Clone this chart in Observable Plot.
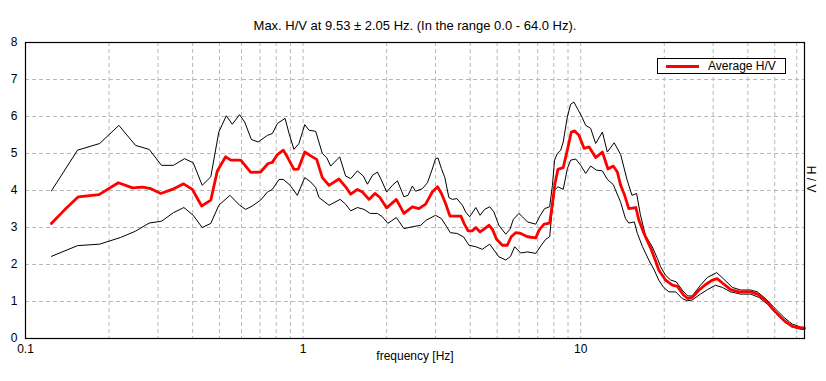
<!DOCTYPE html>
<html><head><meta charset="utf-8">
<script src="https://cdn.jsdelivr.net/npm/d3@7"></script>
<script src="https://cdn.jsdelivr.net/npm/@observablehq/plot@0.6"></script>
<style>
body{margin:0;background:#fff;}
#wrap{position:relative;width:826px;height:381px;font-family:"Liberation Sans",Arial,sans-serif;}
#legend{position:absolute;left:657px;top:58px;width:127px;height:14px;border:1px solid #000;background:#fff;font-size:12px;line-height:14px;}
#legend .sw{position:absolute;left:8px;top:6px;width:33px;height:3px;background:#ff0000;}
#legend .lb{position:absolute;left:50px;top:0px;white-space:nowrap;}
</style></head><body><div id="wrap"></div>
<script>
const titleText = "Max. H/V at 9.53 \u00b1 2.05 Hz. (In the range 0.0 - 64.0 Hz).";
const xLabel = "frequency [Hz]";
const yLabel = "H / V";
const legendLabel = "Average H/V";
const xTicks = [0.1, 1, 10];
const yTicks = [0, 1, 2, 3, 4, 5, 6, 7, 8];
const xGrid = [0.2,0.3,0.4,0.5,0.6,0.7,0.8,0.9,1,2,3,4,5,6,7,8,9,10,20,30,40,50,60];
const yGrid = [1, 2, 3, 4, 5, 6, 7];

const avgF = [0.124,0.138,0.155,0.184,0.216,0.243,0.264,0.283,0.307,0.338,0.371,0.399,0.431,0.465,0.491,0.526,0.549,0.596,0.648,0.703,0.748,0.775,0.808,0.849,0.877,0.927,0.961,1.014,1.080,1.119,1.173,1.240,1.346,1.423,1.484,1.569,1.636,1.727,1.815,1.892,2.000,2.167,2.308,2.475,2.614,2.763,2.92,3.05,3.15,3.26,3.38,3.54,3.70,3.80,3.93,4.07,4.19,4.34,4.51,4.67,4.81,4.98,5.22,5.44,5.62,5.83,6.08,6.43,6.89,7.08,7.38,7.73,7.91,8.08,8.28,8.65,8.95,9.25,9.51,9.86,10.28,10.71,11.32,11.97,12.54,13.1,13.55,13.93,14.4,14.9,15.8,16.2,16.9,17.9,18.6,19.1,20.2,21.4,22.3,23.5,24.3,25.2,26.7,28.2,29.8,31.0,32.4,34.7,37.2,40.9,43.3,46.3,49.7,54.0,57.8,61.9,64];
const avgV = [3.11,3.47,3.83,3.89,4.21,4.07,4.09,4.05,3.92,4.03,4.18,4.03,3.58,3.74,4.53,4.91,4.82,4.82,4.49,4.50,4.73,4.76,4.97,5.09,4.91,4.57,4.58,5.04,4.91,4.84,4.35,4.14,4.31,4.10,3.90,4.03,3.96,3.76,3.92,3.81,3.53,3.76,3.38,3.56,3.51,3.63,3.96,4.10,3.92,3.65,3.31,3.31,3.31,3.11,2.91,2.91,3.00,2.88,2.97,3.06,2.95,2.68,2.52,2.52,2.75,2.86,2.84,2.75,2.72,2.93,3.09,3.12,3.65,4.19,4.57,4.62,5.09,5.58,5.61,5.49,5.14,5.18,4.89,5.04,4.58,4.66,4.50,4.14,3.87,3.51,3.54,3.20,2.84,2.43,2.10,1.85,1.58,1.44,1.41,1.17,1.08,1.11,1.31,1.46,1.58,1.62,1.50,1.32,1.26,1.26,1.20,1.04,0.76,0.49,0.33,0.29,0.28];

const upF = [0.124,0.154,0.185,0.217,0.249,0.279,0.309,0.341,0.374,0.402,0.433,0.465,0.497,0.529,0.556,0.590,0.616,0.651,0.688,0.744,0.775,0.808,0.861,0.890,0.927,0.966,1.014,1.05,1.11,1.173,1.216,1.257,1.355,1.423,1.484,1.569,1.648,1.705,1.778,1.853,1.915,2.0,2.097,2.187,2.308,2.387,2.475,2.543,2.69,2.805,2.92,3.00,3.06,3.15,3.24,3.35,3.45,3.58,3.75,3.85,3.98,4.19,4.34,4.51,4.70,4.87,5.07,5.37,5.56,5.72,5.99,6.17,6.43,6.89,7.13,7.41,7.73,7.91,8.05,8.24,8.47,8.65,8.95,9.2,9.45,9.77,10.1,10.42,10.86,11.32,11.97,12.47,13.2,13.93,14.7,15.3,15.9,16.4,17.1,18.1,18.9,19.4,20.2,21.1,22.1,23.2,24.3,25.2,27.0,28.6,30.9,32.6,35.2,37.7,40.9,43.3,46.3,49.7,54.0,57.8,61.9,64];
const upV = [3.99,5.09,5.27,5.76,5.22,5.11,4.68,4.68,4.86,4.75,4.14,4.37,5.58,6.02,5.79,6.05,5.85,5.38,5.31,5.49,5.54,5.81,5.95,5.54,5.11,5.27,5.78,5.63,5.60,5.00,4.89,4.66,4.91,4.39,4.32,4.53,4.39,4.17,4.41,4.50,4.28,3.96,4.14,4.26,3.83,3.87,4.12,3.98,4.05,4.21,4.58,4.86,4.88,4.59,4.35,3.81,3.76,3.78,3.60,3.42,3.29,3.54,3.33,3.49,3.56,3.42,3.06,2.82,2.95,3.22,3.38,3.29,3.15,3.09,3.31,3.51,3.56,4.14,4.82,5.00,5.09,5.31,5.99,6.33,6.39,6.19,5.99,5.76,5.68,5.27,5.58,5.04,5.29,4.97,4.28,3.87,3.92,3.35,2.79,2.48,2.16,1.94,1.71,1.58,1.53,1.31,1.15,1.15,1.44,1.65,1.78,1.62,1.38,1.31,1.31,1.26,1.08,0.84,0.57,0.39,0.31,0.30];

const loF = [0.124,0.154,0.185,0.220,0.249,0.279,0.309,0.341,0.372,0.402,0.433,0.465,0.497,0.545,0.591,0.621,0.656,0.703,0.744,0.775,0.819,0.849,0.898,0.953,1.014,1.065,1.11,1.141,1.240,1.36,1.423,1.484,1.569,1.657,1.745,1.853,1.930,2.02,2.167,2.308,2.475,2.651,2.78,3.0,3.15,3.29,3.39,3.58,3.78,3.96,4.19,4.42,4.70,4.87,5.07,5.37,5.59,5.78,6.08,6.43,6.89,7.21,7.48,7.73,7.85,8.05,8.28,8.65,8.95,9.2,9.6,10.0,10.42,10.86,11.4,11.97,12.47,13.1,13.93,14.5,14.9,15.6,16.0,16.7,17.6,18.4,19.1,19.9,20.8,22.0,23.2,24.2,25.2,27.0,28.6,30.6,32.4,34.7,37.7,40.9,43.9,47.0,50.4,54.7,58.6,61.9,64];
const loV = [2.22,2.51,2.55,2.73,2.90,3.12,3.17,3.40,3.54,3.33,3.00,3.11,3.60,3.87,3.60,3.49,3.58,3.74,3.96,4.03,4.30,4.30,4.14,3.87,4.35,4.23,4.08,3.81,3.60,3.76,3.63,3.45,3.54,3.49,3.38,3.38,3.29,3.11,3.27,2.97,3.02,3.06,3.20,3.33,3.24,3.02,2.86,2.84,2.75,2.52,2.48,2.41,2.55,2.39,2.21,2.12,2.22,2.48,2.31,2.34,2.30,2.52,2.68,2.75,3.29,4.01,4.10,4.03,4.59,4.82,4.85,4.68,4.46,4.66,4.55,4.53,4.30,4.16,3.68,3.24,3.12,3.15,2.84,2.48,2.12,1.85,1.58,1.38,1.26,1.26,1.08,1.02,1.04,1.20,1.32,1.44,1.38,1.26,1.20,1.20,1.11,0.93,0.68,0.42,0.30,0.25,0.25];

const rows = (f, v) => f.map((x, i) => ({f: x, v: v[i]}));
const avg = rows(avgF, avgV), upper = rows(upF, upV), lower = rows(loF, loV);

const font = "'Liberation Sans', Arial, sans-serif";
const chart = Plot.plot({
  width: 826, height: 381,
  marginLeft: 25, marginRight: 22, marginTop: 42, marginBottom: 43,
  style: {fontFamily: font, fontSize: "12px", color: "#000", background: "#fff"},
  x: {type: "log", domain: [0.1, 64], label: null},
  y: {domain: [0, 8], label: null},
  marks: [
    Plot.ruleX(xGrid, {stroke: "#b8b8b8", strokeDasharray: "4,3"}),
    Plot.ruleY(yGrid, {stroke: "#b8b8b8", strokeDasharray: "4,3"}),
    Plot.axisX(xTicks, {tickSize: 0, tickPadding: 6, tickFormat: d => String(d), fontSize: 12, label: null}),
    Plot.axisY(yTicks, {tickSize: 0, tickPadding: 8, fontSize: 12, label: null}),
    Plot.line(upper, {x: "f", y: "v", stroke: "#000", strokeWidth: 1}),
    Plot.line(lower, {x: "f", y: "v", stroke: "#000", strokeWidth: 1}),
    Plot.line(avg, {x: "f", y: "v", stroke: "#ff0000", strokeWidth: 2.8}),
    Plot.frame({stroke: "#000", strokeWidth: 1.2}),
    Plot.text([titleText], {frameAnchor: "top", dy: -22, fontSize: 13}),
    Plot.text([xLabel], {frameAnchor: "bottom", dy: 21, fontSize: 12}),
    Plot.text([yLabel], {frameAnchor: "right", dx: 6, dy: 2, rotate: 90, fontSize: 12})
  ]
});
const wrap = document.getElementById("wrap");
wrap.appendChild(chart);
const lg = document.createElement("div");
lg.id = "legend";
lg.innerHTML = '<div class="sw"></div><div class="lb"></div>';
lg.querySelector(".lb").textContent = legendLabel;
wrap.appendChild(lg);
</script>
</body></html>
